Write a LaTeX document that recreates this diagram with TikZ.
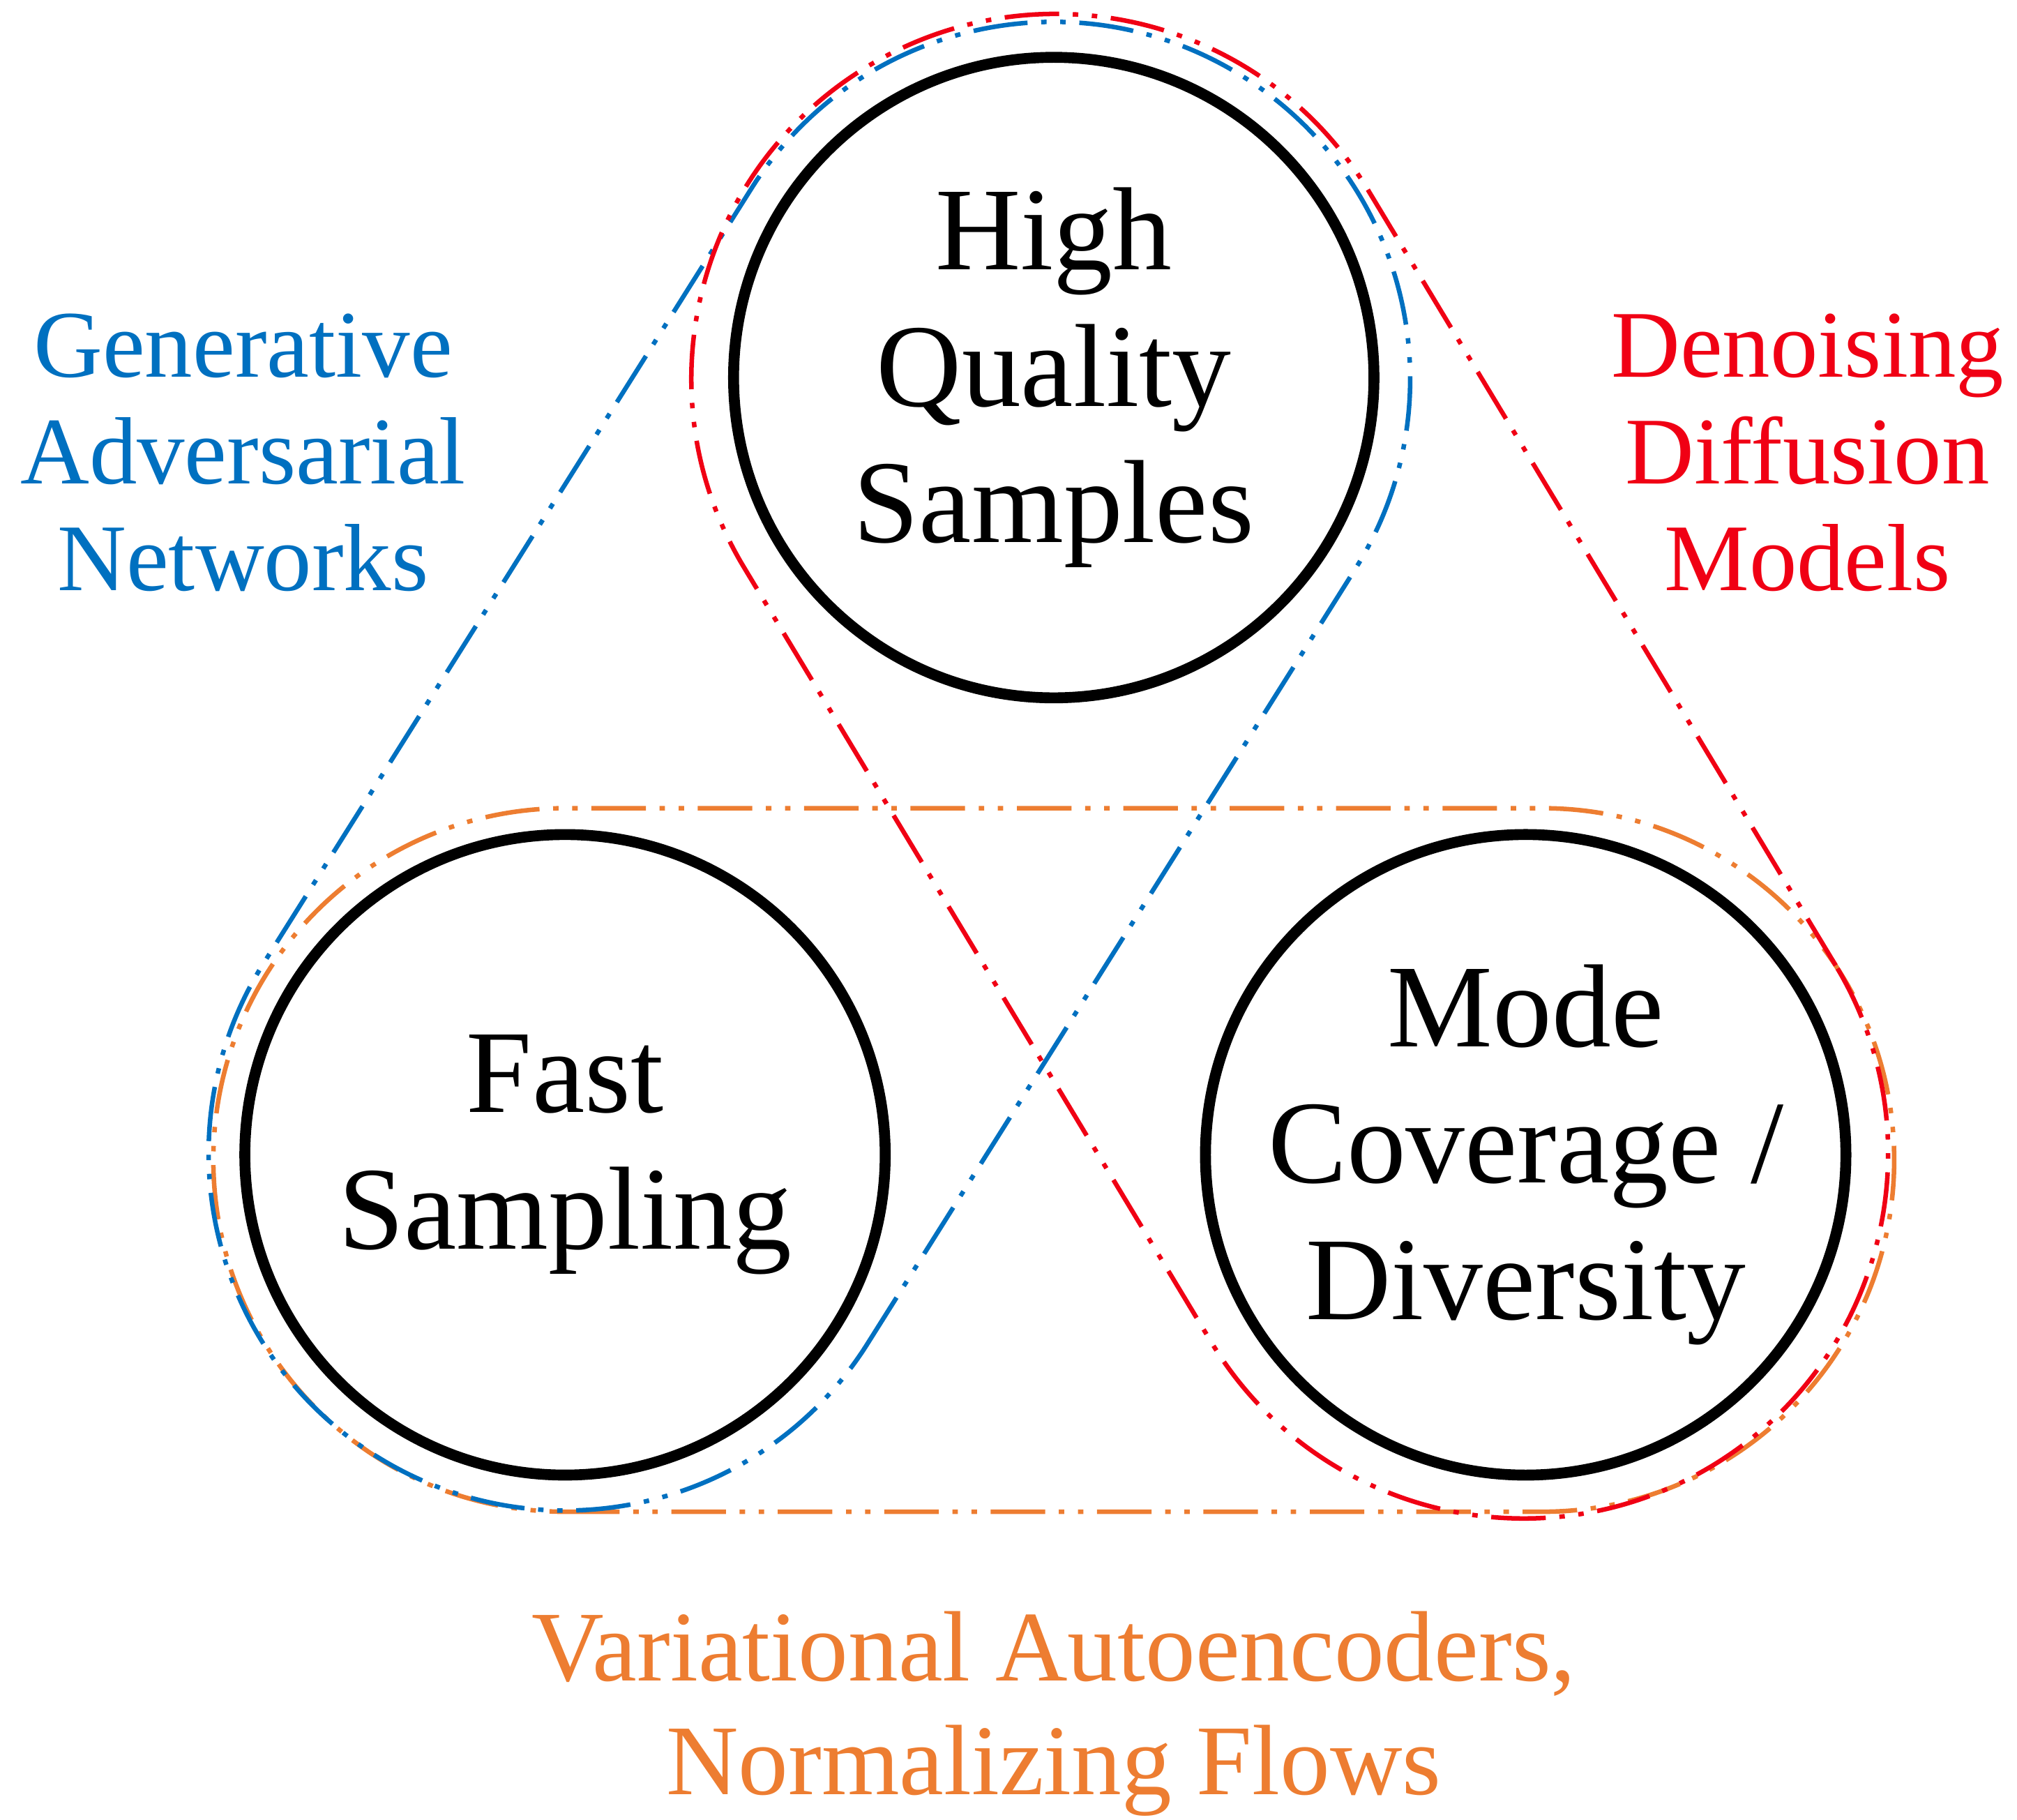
\documentclass[tikz,border=0pt]{standalone}
\usepackage{fontspec}
\setmainfont{Liberation Serif}
\definecolor{gblue}{RGB}{0,112,192}
\definecolor{dred}{RGB}{240,0,20}
\definecolor{vorange}{RGB}{237,125,49}
\begin{document}
\begin{tikzpicture}[x=0.01cm,y=0.01cm,
  prop/.style={circle,draw=black,line width=2.4pt,inner sep=0pt,align=center,font=\fontsize{26}{30}\selectfont},
  env/.style={line width=1pt,dash pattern=on 12pt off 3pt on 1.2pt off 3pt on 1.2pt off 3pt},
  lab/.style={align=center,font=\fontsize{21}{23.5}\selectfont}]
\useasboundingbox (0,0) rectangle (1560,1407);
\node[prop,minimum size=4.95cm] (hq) at (815,1115) {High\\Quality\\Samples};
\node[prop,minimum size=4.95cm] (fs) at (437,514) {Fast\\Sampling};
\node[prop,minimum size=4.95cm] (mc) at (1180,514) {Mode\\Coverage /\\Diversity};
% VAE envelope
\draw[env,vorange] (437,238) -- (1193,238) arc[start angle=-90,end angle=90,radius=272] -- (437,782) arc[start angle=90,end angle=270,radius=272] -- cycle;
% GAN envelope
\begin{scope}[shift={(626,814.5)},rotate=57.8]
\draw[env,gblue] (-354,-276) -- (354,-276) arc[start angle=-90,end angle=90,radius=276] -- (-354,276) arc[start angle=90,end angle=270,radius=276] -- cycle;
\end{scope}
% DDM envelope
\begin{scope}[shift={(997.5,814.5)},rotate=121.1]
\draw[env,dred] (-350,-282) -- (350,-282) arc[start angle=-90,end angle=90,radius=282] -- (-350,282) arc[start angle=90,end angle=270,radius=282] -- cycle;
\end{scope}
\node[lab,text=gblue] (gan) at (188,1057) {Generative\\Adversarial\\Networks};
\node[lab,text=dred] (ddm) at (1398,1057) {Denoising\\Diffusion\\Models};
\node[lab,text=vorange,font=\fontsize{22}{25}\selectfont] (vae) at (815,82) {Variational Autoencoders,\\Normalizing Flows};
\end{tikzpicture}
\end{document}
